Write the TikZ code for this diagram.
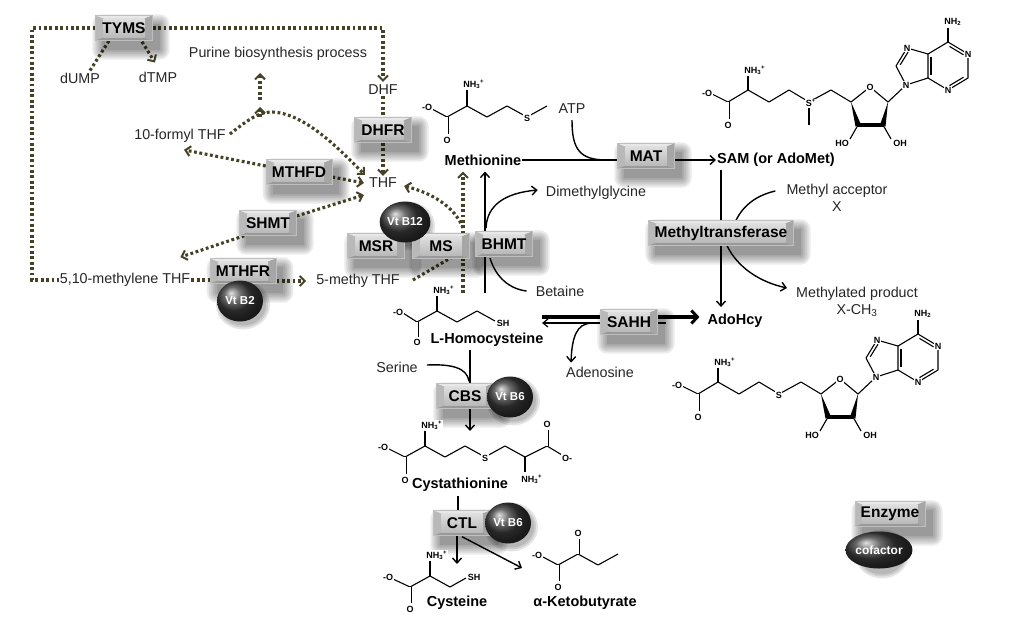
\documentclass[tikz,border=0pt]{standalone}
\usepackage{fontspec}
\setmainfont{Liberation Sans}
\usetikzlibrary{arrows.meta,calc,shapes.geometric}
\pgfdeclarelayer{bg}
\pgfdeclarelayer{shad}
\pgfsetlayers{bg,shad,main}
\definecolor{dotc}{RGB}{70,66,38}
\newcommand\nhthree{NH\textsubscript{3}\textsuperscript{+}}
\newcommand\eshadow[1]{%
 \begin{pgfonlayer}{shad}
 \foreach \m in {0,2,...,10} {
   \fill[black, opacity=0.08, rounded corners=\m pt] ($(#1.north west)+(7-\m,9-\m)$) rectangle ($(#1.south east)+(7+\m,9+\m)$);
 }
 \end{pgfonlayer}}
\newcommand\bshadow[1]{%
 \begin{pgfonlayer}{shad}
 \foreach \m in {0,2,4} {
   \fill[black, opacity=0.1] ($(#1.center)+(3,4)$) ellipse[x radius=23+\m, y radius=20.5+\m];
 }
 \end{pgfonlayer}}
\newcommand\adomol[1]{%
 \draw[bond] (712,94) -- (728,102) -- (748,90) -- (769,102) -- (789,90) -- (809,102) -- (831,90) -- (851,102) -- (870,87) -- (888,102) -- (906,85);
 \draw[dbl] (728,102) -- (728,119);
 \draw[bond] (748,90) -- (748,76);
 \fill (851,102) -- (855.5,126.5) -- (860.5,123.5) -- cycle;
 \fill (888,102) -- (885.5,126.5) -- (880.5,123.5) -- cycle;
 \draw[line width=3.4pt] (857,125) -- (884,125);
 \draw[bond] (858,125) -- (850,139);
 \draw[bond] (883,125) -- (891,139);
 \draw[bond] (906,85) -- (896,66) -- (907,48) -- (928,54) -- (928,78) -- cycle;
 \draw[bond] (928,54) -- (948,42) -- (968,54) -- (968,78) -- (948,90) -- (928,78);
 \draw[bond] (900.2,64.8) -- (908,52.2);
 \draw[bond] (931,57) -- (931,75);
 \draw[bond] (949.5,46.4) -- (963.5,54.8);
 \draw[bond] (963.5,77.2) -- (949.5,85.6);
 \draw[bond] (948,42) -- (948,28);
 \node[atom] at (707,93) {-O};
 \node[atom] at (728,125) {O};
 \node[atom,anchor=west] at (743.5,70) {\nhthree};
 \node[atom,anchor=west] at (805,103) {#1};
 \node[atom] at (870,87) {O};
 \node[atom] at (842,143) {HO};
 \node[atom] at (900,143) {OH};
 \node[atom] at (906,85) {N};
 \node[atom] at (907,48) {N};
 \node[atom] at (968,54) {N};
 \node[atom] at (948,90) {N};
 \node[atom,anchor=west] at (943.5,22) {NH\textsubscript{2}};
}
\begin{document}
\begin{tikzpicture}[x=1pt,y=-1pt,
 lbl/.style={font=\fontsize{14.3}{17}\selectfont, text=black!85, inner sep=1pt},
 blbl/.style={font=\bfseries\fontsize{14.5}{17}\selectfont, inner sep=1pt},
 enz/.style={rectangle, font=\bfseries\fontsize{15.5}{15.5}\selectfont, minimum height=25pt, minimum width=57pt, inner xsep=6pt, fill=gray!55, draw=gray!50, line width=0.4pt,
   path picture={
     \coordinate (ppa) at (path picture bounding box.north west);
     \coordinate (ppb) at (path picture bounding box.north east);
     \coordinate (ppc) at (path picture bounding box.south east);
     \coordinate (ppd) at (path picture bounding box.south west);
     \fill[gray!18] (ppa) -- (ppb) -- ([xshift=-8pt,yshift=-3pt]ppb) -- ([xshift=8pt,yshift=-3pt]ppa) -- cycle;
     \fill[gray!80] (ppd) -- (ppc) -- ([xshift=-8pt,yshift=3pt]ppc) -- ([xshift=8pt,yshift=3pt]ppd) -- cycle;
     \fill[gray!70] (ppb) -- (ppc) -- ([xshift=-8pt,yshift=3pt]ppc) -- ([xshift=-8pt,yshift=-3pt]ppb) -- cycle;
     \shade[top color=gray!25, bottom color=gray!55] ([xshift=8pt,yshift=-3pt]ppa) rectangle ([xshift=-8pt,yshift=3pt]ppc);
   }},
 cof/.style={ellipse, minimum width=46pt, minimum height=41pt, inner sep=0pt, ball color=gray!45!black, text=white, font=\bfseries\fontsize{11.5}{11.5}\selectfont},
 dots/.style={draw=dotc, line width=3.1pt, dash pattern=on 2.8pt off 2.6pt},
 dotarr/.style={dots, -{Straight Barb[length=5pt,width=10pt,line width=2pt]}},
 sol/.style={draw=black, line width=1.4pt},
 solarr/.style={sol, -{Straight Barb[length=5pt,width=9pt,line width=1.4pt]}},
 bond/.style={line width=1.1pt, line join=round},
 dbl/.style={double=white, double distance=1.4pt, line width=0.8pt},
 atom/.style={font=\bfseries\fontsize{9}{9}\selectfont, inner sep=0.6pt, fill=white},
]
\useasboundingbox (0,0) rectangle (1024,624);
\begin{pgfonlayer}{bg}
\fill[white] (0,0) rectangle (1024,624);
\end{pgfonlayer}

% ---------- labels ----------
\node[lbl] (dUMP) at (80,78) {dUMP};
\node[lbl] (dTMP) at (158,77) {dTMP};
\node[lbl] (purine) at (278,54) {Purine biosynthesis process};
\node[lbl] (DHF) at (383,90) {DHF};
\node[lbl] (THF) at (383,183) {THF};
\node[lbl] (formyl) at (180,136) {10-formyl THF};
\node[lbl] (methylene) at (125,280) {5,10-methylene THF};
\node[lbl] (methyTHF) at (358,281) {5-methy THF};
\node[blbl] (Met) at (483,160) {Methionine};
\node[lbl] (ATP) at (572,109) {ATP};
\node[blbl] (SAM) at (776,160) {SAM (or AdoMet)};
\node[lbl] (DMG) at (596,193) {Dimethylglycine};
\node[lbl] (Bet) at (560,291) {Betaine};
\node[lbl, align=center] (acc) at (837,198) {Methyl acceptor\\X};
\node[lbl, align=center] (prod) at (857,302) {Methylated product\\X-CH\textsubscript{3}};
\node[blbl] (AdoHcy) at (735,321) {AdoHcy};
\node[lbl] (Ado) at (600,372) {Adenosine};
\node[blbl] (Hcy) at (487,340) {L-Homocysteine};
\node[lbl] (Ser) at (397,367) {Serine};
\node[blbl] (Cysta) at (460,485) {Cystathionine};
\node[blbl] (Cys) at (457,603) {Cysteine};
\node[blbl] (KB) at (585,603) {α-Ketobutyrate};

% ---------- enzymes and cofactors ----------
\node[enz] (TYMS) at (124,28) {TYMS};
\node[enz] (DHFR) at (383,130) {DHFR};
\node[enz] (MTHFD) at (299,172) {MTHFD};
\node[enz] (SHMT) at (268,223) {SHMT};
\node[enz] (MTHFR) at (243,271) {MTHFR};
\node[cof] (B2) at (240,301) {Vt B2};
\node[enz] (MSR) at (376,246) {MSR};
\node[enz] (MS) at (441,246) {MS};
\node[cof] (B12) at (405,222) {Vt B12};
\node[enz] (BHMT) at (504,244) {BHMT};
\node[enz] (MAT) at (646,156) {MAT};
\node[enz] (MT) at (721,233) {Methyltransferase};
\node[enz] (SAHH) at (629,322) {SAHH};
\node[enz] (CBS) at (465,396) {CBS};
\node[cof] (B6a) at (510,397) {Vt B6};
\node[enz] (CTL) at (462,523) {CTL};
\node[cof] (B6b) at (508,523) {Vt B6};
\node[enz] (Enz) at (890,514) {Enzyme};
\node[cof, minimum width=58pt, minimum height=37pt, font=\bfseries\fontsize{12}{12}\selectfont] (cofl) at (879,550) {cofactor};

\foreach \n in {TYMS,DHFR,MTHFD,SHMT,MTHFR,MSR,MS,BHMT,MAT,MT,SAHH,CBS,CTL,Enz} {\eshadow{\n}}
\foreach \n in {B2,B12,B6a,B6b,cofl} {\bshadow{\n}}

% ---------- connectors ----------
\begin{pgfonlayer}{bg}
\coordinate (tl1) at (32,28);
\coordinate (tl2) at (32,280);
\coordinate (tr1) at (383,28);
\draw[dots] (TYMS.west) -- (tl1) -- (tl2) -- (methylene.west);
\draw[dotarr] (TYMS.east) -- (tr1) -- ($(DHF.north)+(0,-2)$);
\draw[dots] ($(dUMP.north)+(10,-1)$) -- ($(TYMS.south)+(-15,0)$);
\draw[dotarr] ($(TYMS.south)+(18,1)$) -- ($(dTMP.north)+(-3,-8)$);
\draw[dots] (DHF.south) -- (DHFR.north);
\draw[dotarr] (DHFR.south) -- ($(THF.north)+(0,-1)$);
\coordinate (peak) at (272,112);
\draw[dotarr] ($(formyl.east)+(3,-2)$) .. controls (248,120) and (258,112) .. (peak) .. controls (305,113) and (340,150) .. ($(THF.north west)+(-3,-2)$);
\coordinate (fk1) at (260,117);
\coordinate (fk2) at (260,100);
\coordinate (purin) at (260,73);
\draw[dotarr] (fk1) -- ++(0,-10);
\draw[dotarr] (fk2) -- (purin);
\draw[dotarr] ($(MTHFD.west)+(0,-6)$) -- ($(formyl.south)+(4,6)$);
\draw[dotarr] ($(MTHFD.east)+(0,5)$) -- ($(THF.west)+(-4,0)$);
\draw[dotarr] ($(SHMT.east)+(0,-7)$) -- ($(THF.west)+(-4,12)$);
\draw[dotarr] ($(SHMT.south west)+(5,0)$) -- ($(methylene.north east)+(-11,-15)$);
\draw[dots] (methylene.east) -- (methylene.east -| MTHFR.west);
\draw[dotarr] (MTHFR.east |- methyTHF.west) -- ($(methyTHF.west)+(-9,0)$);
\draw[dots] ($(methyTHF.east)+(12,-1)$) -- ($(MS.south)+(10,-1)$);
\coordinate (vb) at (463,293);
\draw[dotarr] (vb) -- ($(vb |- Met.south)+(0,5)$);
\coordinate (msb) at (463,228);
\draw[dotarr] (msb) .. controls (455,207) and (432,193) .. ($(THF.east)+(6,3)$);

\draw[sol] (Met.east) -- (Met.east -| MAT.west);
\coordinate (atpj) at (607,160);
\draw[sol] ($(ATP.south)+(0,5)$) .. controls (572,150) and (580,160) .. (atpj);
\draw[solarr] (MAT.east |- SAM.west) -- (SAM.west);
\coordinate (bt) at (485,231);
\draw[solarr] (bt) -- ($(bt |- Met.south)+(0,5)$);
\draw[solarr] ($(bt)+(1,-3)$) .. controls (487,205) and (505,193) .. ($(DMG.west)+(-7,-3)$);
\coordinate (bb) at (485,257);
\coordinate (bb2) at (485,293);
\draw[sol] (bb) -- (bb2);
\draw[sol] ($(bb)+(5,1)$) .. controls (496,278) and (510,289) .. ($(Bet.west)+(-8,0)$);
\draw[sol] ($(SAM.south -| MT.north)+(0,2)$) -- (MT.north);
\draw[solarr] (MT.south) -- ($(MT.south |- AdoHcy.north)+(0,-6)$);
\draw[sol] ($(MT.north)+(15,0)$) .. controls (744,204) and (758,195) .. ($(acc.west)+(-10,-7)$);
\draw[solarr] ($(MT.south)+(6,0)$) .. controls (738,268) and (760,282) .. ($(prod.west)+(-8,-14)$);
\coordinate (sl) at (542,317);
\draw[line width=3.3pt, -{Straight Barb[length=6pt,width=13pt,line width=3pt]}] (sl) -- ($(AdoHcy.west)+(-7,-4)$);
\coordinate (thr) at (666,323);
\coordinate (thl) at (542,323);
\draw[line width=1.2pt, -{Straight Barb[length=5pt,width=8pt,line width=1.2pt]}] (thr) -- (thl);
\coordinate (adoj) at (591,323);
\draw[solarr] (adoj) .. controls (577,324) and (572,336) .. ($(Ado.north west)+(6,-3)$);
\coordinate (hc) at (470,350);
\draw[sol] (hc) -- (hc |- CBS.north);
\draw[sol] ($(Ser.east)+(8,-2)$) .. controls (450,364) and (467,367) .. ($(hc |- CBS.north)+(-1,-2)$);
\coordinate (cyin) at (470,431);
\draw[solarr] (hc |- CBS.south) -- (cyin);
\draw[sol] ($(Cysta.south)+(-2,3)$) -- ($(CTL.north)+(-4,0)$);
\coordinate (cysin) at (457,564);
\coordinate (kbin) at (522,568);
\draw[solarr] ($(CTL.south)+(-5,0)$) -- (cysin);
\draw[solarr] ($(CTL.south)+(0,1)$) -- (kbin);
\end{pgfonlayer}

% ---------- molecules ----------
% Methionine
\draw[bond] (432,109) -- (447,117) -- (467,106) -- (487,117) -- (507,106) -- (527,117) -- (547,106);
\draw[dbl] (447,117) -- (447,134);
\draw[bond] (467,106) -- (467,90);
\node[atom] at (427,107) {-O};
\node[atom] at (447,140) {O};
\node[atom,anchor=west] at (462.5,84) {\nhthree};
\node[atom] at (527,118) {S};
% SAM
\adomol{S\textsuperscript{+}}
\draw[bond] (809,108) -- (809,125);
% AdoHcy
\begin{scope}[shift={(-30,292)}]
\adomol{S}
\end{scope}
% Homocysteine
\draw[bond] (403,313) -- (417,322) -- (437,311) -- (457,322) -- (477,311) -- (495,321);
\draw[dbl] (417,322) -- (417,337);
\draw[bond] (437,311) -- (437,296);
\node[atom] at (398,312) {-O};
\node[atom] at (417,342) {O};
\node[atom,anchor=west] at (432.5,290) {\nhthree};
\node[atom] at (503,323) {SH};
% Cystathionine
\draw[bond] (389,449) -- (405,457) -- (425,446) -- (445,457) -- (465,446) -- (485,457) -- (505,446) -- (525,457) -- (547,446) -- (562,455);
\draw[dbl] (405,457) -- (405,474);
\draw[dbl] (547,446) -- (547,430);
\draw[bond] (425,446) -- (425,431);
\draw[bond] (525,457) -- (525,472);
\node[atom] at (383,447) {-O};
\node[atom] at (405,480) {O};
\node[atom,anchor=west] at (420.5,425) {\nhthree};
\node[atom] at (485,458) {S};
\node[atom,anchor=west] at (520.5,479) {\nhthree};
\node[atom] at (547,424) {O};
\node[atom] at (567,458) {O-};
% Cysteine
\draw[bond] (393,579) -- (410,587) -- (430,576) -- (450,587) -- (466,578);
\draw[dbl] (410,587) -- (410,603);
\draw[bond] (430,576) -- (430,561);
\node[atom] at (388,577) {-O};
\node[atom] at (410,609) {O};
\node[atom,anchor=west] at (425.5,555) {\nhthree};
\node[atom] at (474,577) {SH};
% alpha-ketobutyrate
\draw[bond] (543,557) -- (558,565) -- (578,554) -- (598,565) -- (618,554);
\draw[dbl] (558,565) -- (558,581);
\draw[dbl] (578,554) -- (578,539);
\node[atom] at (537,555) {-O};
\node[atom] at (558,587) {O};
\node[atom] at (578,533) {O};
\end{tikzpicture}
\end{document}
